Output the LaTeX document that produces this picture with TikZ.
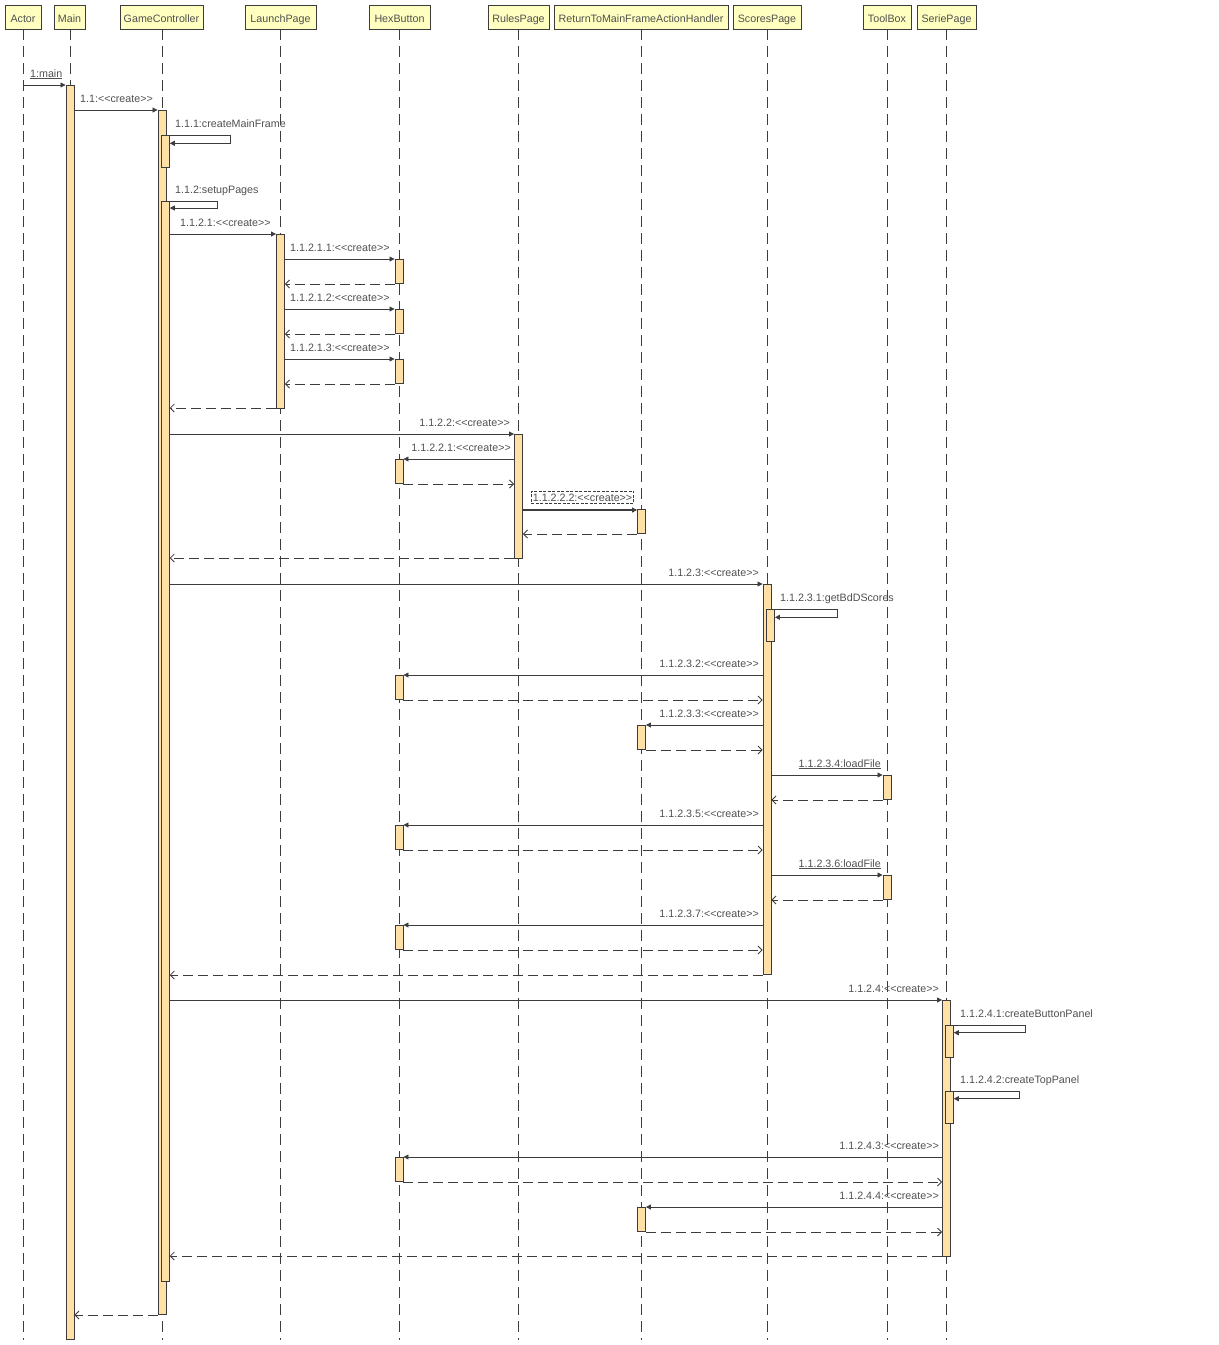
\documentclass[tikz,border=0pt]{standalone}
\usepackage{fontspec}
\setmainfont{Liberation Sans}
\usetikzlibrary{arrows.meta}
\definecolor{headfill}{RGB}{255,255,192}
\definecolor{barfill}{RGB}{255,224,166}
\definecolor{linec}{RGB}{60,60,60}
\definecolor{textc}{RGB}{80,80,80}
\newcommand{\crt}{<{}<create>{}>}
\tikzset{
  head/.style={draw=linec, fill=headfill, line width=0.9pt, minimum height=24pt, inner sep=0pt, text height=10pt, text depth=0pt, font=\fontsize{10.7}{12}\selectfont, text=textc},
  lifeline/.style={draw=linec, line width=0.9pt, dash pattern=on 11pt off 6pt},
  actbar/.style={draw=linec, fill=barfill, line width=0.9pt, minimum width=8pt, inner sep=0pt},
  msg/.style={draw=linec, line width=0.8pt, -{Triangle[length=5pt,width=5pt]}},
  ret/.style={draw=linec, line width=0.8pt, dash pattern=on 10pt off 5pt, -{Straight Barb[length=4pt,width=8pt]}},
  lbl/.style={font=\fontsize{10.7}{12}\selectfont, text=textc, inner sep=0pt},
}
\begin{document}
\begin{tikzpicture}[x=1pt,y=-1pt]
\useasboundingbox (0,0) rectangle (1219,1345);
% heads
\node[head, minimum width=36pt] (actor) at (23,17) {Actor};
\node[head, minimum width=31pt] (main) at (69.5,17) {Main};
\node[head, minimum width=83pt] (gc) at (161.5,17) {GameController};
\node[head, minimum width=71pt] (lp) at (280.5,17) {LaunchPage};
\node[head, minimum width=61pt] (hb) at (399.5,17) {HexButton};
\node[head, minimum width=61pt] (rp) at (518.5,17) {RulesPage};
\node[head, minimum width=174pt] (rt) at (641,17) {ReturnToMainFrameActionHandler};
\node[head, minimum width=68pt] (sp) at (767,17) {ScoresPage};
\node[head, minimum width=48pt] (tb) at (887,17) {ToolBox};
\node[head, minimum width=59pt] (se) at (946.5,17) {SeriePage};
% lifelines
\coordinate (actorEnd) at (23,1340);
\coordinate (mainEnd) at (70,1340);
\coordinate (gcEnd) at (162,1340);
\coordinate (lpEnd) at (280,1340);
\coordinate (hbEnd) at (399,1340);
\coordinate (rpEnd) at (518,1340);
\coordinate (rtEnd) at (641,1340);
\coordinate (spEnd) at (767,1340);
\coordinate (tbEnd) at (887,1340);
\coordinate (seEnd) at (946,1340);
\draw[lifeline] (23,29) -- (actorEnd);
\draw[lifeline] (70,29) -- (mainEnd);
\draw[lifeline] (162,29) -- (gcEnd);
\draw[lifeline] (280,29) -- (lpEnd);
\draw[lifeline] (399,29) -- (hbEnd);
\draw[lifeline] (518,29) -- (rpEnd);
\draw[lifeline] (641,29) -- (rtEnd);
\draw[lifeline] (767,29) -- (spEnd);
\draw[lifeline] (887,29) -- (tbEnd);
\draw[lifeline] (946,29) -- (seEnd);
% activation bars
\node[actbar, minimum height=1254pt] (mainA) at (70,712) {};
\node[actbar, minimum height=1204pt] (gcA) at (162,712) {};
\node[actbar, minimum height=32.7pt] (gcB) at (165.3,151.35) {};
\node[actbar, minimum height=1080pt] (gcC) at (165.3,741) {};
\node[actbar, minimum height=174pt] (lpA) at (280.5,321) {};
\node[actbar, minimum height=24pt] (hb1) at (399,271) {};
\node[actbar, minimum height=24pt] (hb2) at (399,321) {};
\node[actbar, minimum height=24pt] (hb3) at (399,371) {};
\node[actbar, minimum height=124pt] (rpA) at (518.5,496) {};
\node[actbar, minimum height=24pt] (hb4) at (399,471) {};
\node[actbar, minimum height=24pt] (rt1) at (641.5,521) {};
\node[actbar, minimum height=390pt] (spA) at (767,779) {};
\node[actbar, minimum height=32pt] (spB) at (770.5,625.3) {};
\node[actbar, minimum height=24pt] (hb5) at (399,687) {};
\node[actbar, minimum height=24pt] (rt2) at (641.5,737) {};
\node[actbar, minimum height=24pt] (tb1) at (887,787) {};
\node[actbar, minimum height=24pt] (hb6) at (399,837) {};
\node[actbar, minimum height=24pt] (tb2) at (887,887) {};
\node[actbar, minimum height=24pt] (hb7) at (399,937) {};
\node[actbar, minimum height=256pt] (seA) at (946.5,1128) {};
\node[actbar, minimum height=32pt] (seB) at (949.3,1041.3) {};
\node[actbar, minimum height=32pt] (seC) at (949.3,1107.3) {};
\node[actbar, minimum height=24pt] (hb8) at (399,1169) {};
\node[actbar, minimum height=24pt] (rt3) at (641.5,1219) {};
% messages
\draw[msg] (actor |- 0,85) -- (mainA.west |- 0,85);
\node[lbl, anchor=base west] at (30,77) {\underline{1:main}};
\draw[msg] (mainA.east |- 0,110) -- (gcA.west |- 0,110);
\node[lbl, anchor=base west] at (80,102) {1.1:\crt};
\draw[msg] (gcA.east |- 0,135.7) -- (230.7,135.7) -- (230.7,143.3) -- (gcB.east |- 0,143.3);
\node[lbl, anchor=base west] at (175,127) {1.1.1:createMainFrame};
\draw[msg] (gcA.east |- 0,201) -- (217.3,201) -- (217.3,208) -- (gcC.east |- 0,208);
\node[lbl, anchor=base west] at (175,193) {1.1.2:setupPages};
\draw[msg] (gcC.east |- 0,234) -- (lpA.west |- 0,234);
\node[lbl, anchor=base west] at (180,226) {1.1.2.1:\crt};
% LaunchPage -> HexButton
\draw[msg] (lpA.east |- 0,259) -- (hb1.west |- 0,259);
\node[lbl, anchor=base west] at (290,251) {1.1.2.1.1:\crt};
\draw[ret] (hb1.west |- 0,284) -- (lpA.east |- 0,284);
\draw[msg] (lpA.east |- 0,309) -- (hb2.west |- 0,309);
\node[lbl, anchor=base west] at (290,301) {1.1.2.1.2:\crt};
\draw[ret] (hb2.west |- 0,334) -- (lpA.east |- 0,334);
\draw[msg] (lpA.east |- 0,359) -- (hb3.west |- 0,359);
\node[lbl, anchor=base west] at (290,351) {1.1.2.1.3:\crt};
\draw[ret] (hb3.west |- 0,384) -- (lpA.east |- 0,384);
\draw[ret] (lpA.west |- 0,408) -- (gcC.east |- 0,408);
% RulesPage
\draw[msg] (gcC.east |- 0,434) -- (rpA.west |- 0,434);
\node[lbl, anchor=base east] at (510,426) {1.1.2.2:\crt};
\draw[msg] (rpA.west |- 0,459) -- (hb4.east |- 0,459);
\node[lbl, anchor=base east] at (511,451) {1.1.2.2.1:\crt};
\draw[ret] (hb4.east |- 0,484) -- (rpA.west |- 0,484);
\node[lbl, anchor=base west, draw=linec, dash pattern=on 3pt off 1.5pt, line width=0.7pt, inner xsep=1.5pt, inner ysep=2.5pt] at (531,501) {1.1.2.2.2:\crt};
\draw[msg, line width=1.1pt] (rpA.east |- 0,510) -- (rt1.west |- 0,510);
\draw[ret] (rt1.west |- 0,534) -- (rpA.east |- 0,534);
\draw[ret] (rpA.west |- 0,558) -- (gcC.east |- 0,558);
% ScoresPage
\draw[msg] (gcC.east |- 0,584) -- (spA.west |- 0,584);
\node[lbl, anchor=base east] at (759,576) {1.1.2.3:\crt};
\draw[msg] (spA.east |- 0,609.7) -- (837.3,609.7) -- (837.3,617.3) -- (spB.east |- 0,617.3);
\node[lbl, anchor=base west] at (780,601) {1.1.2.3.1:getBdDScores};
\draw[msg] (spA.west |- 0,675) -- (hb5.east |- 0,675);
\node[lbl, anchor=base east] at (759,667) {1.1.2.3.2:\crt};
\draw[ret] (hb5.east |- 0,700) -- (spA.west |- 0,700);
\draw[msg] (spA.west |- 0,725) -- (rt2.east |- 0,725);
\node[lbl, anchor=base east] at (759,717) {1.1.2.3.3:\crt};
\draw[ret] (rt2.east |- 0,750) -- (spA.west |- 0,750);
\draw[msg] (spA.east |- 0,775) -- (tb1.west |- 0,775);
\node[lbl, anchor=base east] at (881,767) {\underline{1.1.2.3.4:loadFile}};
\draw[ret] (tb1.west |- 0,800) -- (spA.east |- 0,800);
\draw[msg] (spA.west |- 0,825) -- (hb6.east |- 0,825);
\node[lbl, anchor=base east] at (759,817) {1.1.2.3.5:\crt};
\draw[ret] (hb6.east |- 0,850) -- (spA.west |- 0,850);
\draw[msg] (spA.east |- 0,875) -- (tb2.west |- 0,875);
\node[lbl, anchor=base east] at (881,867) {\underline{1.1.2.3.6:loadFile}};
\draw[ret] (tb2.west |- 0,900) -- (spA.east |- 0,900);
\draw[msg] (spA.west |- 0,925) -- (hb7.east |- 0,925);
\node[lbl, anchor=base east] at (759,917) {1.1.2.3.7:\crt};
\draw[ret] (hb7.east |- 0,950) -- (spA.west |- 0,950);
\draw[ret] (spA.west |- 0,975) -- (gcC.east |- 0,975);
% SeriePage
\draw[msg] (gcC.east |- 0,1000) -- (seA.west |- 0,1000);
\node[lbl, anchor=base east] at (939,992) {1.1.2.4:\crt};
\draw[msg] (seA.east |- 0,1025.3) -- (1025.7,1025.3) -- (1025.7,1032.7) -- (seB.east |- 0,1032.7);
\node[lbl, anchor=base west] at (960,1017) {1.1.2.4.1:createButtonPanel};
\draw[msg] (seA.east |- 0,1091.3) -- (1019.3,1091.3) -- (1019.3,1098.7) -- (seC.east |- 0,1098.7);
\node[lbl, anchor=base west] at (960,1083) {1.1.2.4.2:createTopPanel};
\draw[msg] (seA.west |- 0,1157) -- (hb8.east |- 0,1157);
\node[lbl, anchor=base east] at (939,1149) {1.1.2.4.3:\crt};
\draw[ret] (hb8.east |- 0,1182) -- (seA.west |- 0,1182);
\draw[msg] (seA.west |- 0,1207) -- (rt3.east |- 0,1207);
\node[lbl, anchor=base east] at (939,1199) {1.1.2.4.4:\crt};
\draw[ret] (rt3.east |- 0,1232) -- (seA.west |- 0,1232);
\draw[ret] (seA.west |- 0,1256) -- (gcC.east |- 0,1256);
\draw[ret] (gcA.west |- 0,1315) -- (mainA.east |- 0,1315);
\end{tikzpicture}
\end{document}
